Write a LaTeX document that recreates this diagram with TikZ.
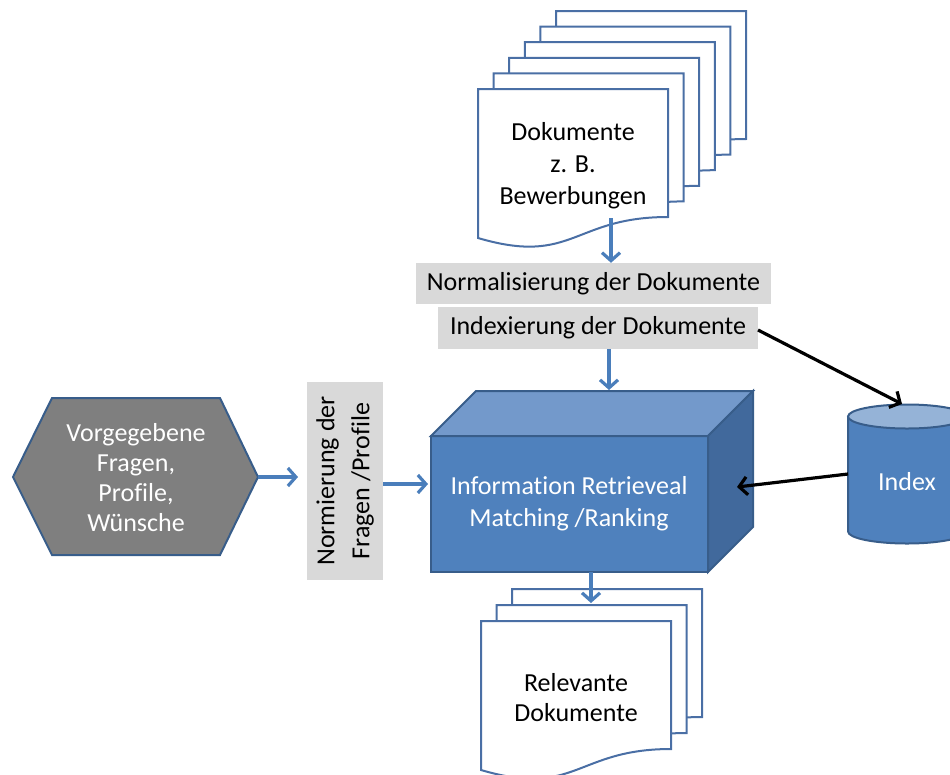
\documentclass[tikz,border=0pt]{standalone}
\usepackage{fontspec}
\setmainfont{Carlito}[Ligatures=NoCommon]
\usetikzlibrary{arrows.meta}

\definecolor{pageblue}{HTML}{4A6FA5}
\definecolor{arrowblue}{HTML}{4A7EBB}
\definecolor{darkblue}{HTML}{385D8A}
\definecolor{frontblue}{HTML}{4F81BD}
\definecolor{topblue}{HTML}{7399CB}
\definecolor{sideblue}{HTML}{41699C}
\definecolor{capblue}{HTML}{95B3D7}
\definecolor{lightgray}{HTML}{D9D9D9}
\definecolor{hexgray}{HTML}{7F7F7F}

\tikzset{
  bluearrow/.style={draw=arrowblue,line width=3.2pt,-{Straight Barb[length=8pt,width=18pt]}},
  blackarrow/.style={draw=black,line width=3.2pt,-{Straight Barb[length=8pt,width=18pt]}},
  graybox/.style={fill=lightgray,inner sep=0pt,align=center,font=\fontsize{26}{35}\selectfont},
  bigtext/.style={align=center,font=\fontsize{26}{32}\selectfont},
  docpage/.pic={
    \draw[pageblue,line width=2pt,fill=white] (0,0) -- (190,0) -- (190,128)
      .. controls (95,128) and (95,177) .. (0,149) -- cycle;
  }
}

\begin{document}
\begin{tikzpicture}[x=1pt,y=-1pt]
                        \useasboundingbox (0,0) rectangle (950,774);

                        % Dokumente
                        \foreach \k in {5,4,...,0}
                            \pic at ({478+15.6*\k},{89-15.6*\k}) {docpage};
                        \node[bigtext] (docs) at (573,166) {Dokumente\\z. B.\\Bewerbungen};
                        \coordinate (docsout) at (611,218);

                        \node[graybox,minimum width=355pt,minimum height=41pt] (norm) at (593.5,283.5) {Normalisierung der Dokumente};
                        \node[graybox,minimum width=320pt,minimum height=42pt] (idx) at (598,328) {Indexierung der Dokumente};
                        \coordinate (idxout) at (609,349);
                        \coordinate (idxright) at (758,330);

                        % Information Retrieval
                        \fill[frontblue,draw=darkblue,line width=2pt] (431,436) -- (708,436) -- (708,572) -- (431,572) -- cycle;
                        \fill[topblue,draw=darkblue,line width=2pt] (431,436) -- (476,391) -- (753,391) -- (708,436) -- cycle;
                        \fill[sideblue,draw=darkblue,line width=2pt] (708,436) -- (753,391) -- (753,527) -- (708,572) -- cycle;
                        \node[bigtext,text=white] (ir) at (569,504) {Information Retrieveal\\Matching /Ranking};
                        \coordinate (irtop) at (609,390);
                        \coordinate (irleft) at (428,484);
                        \coordinate (irright) at (737,487);
                        \coordinate (irbottom) at (591,572);

                        % Index
                        \fill[frontblue,draw=darkblue,line width=2pt] (848,416.5) -- (848,531.5)
                            arc[start angle=180,end angle=360,x radius=59pt,y radius=12pt] -- (966,416.5) -- cycle;
                        \fill[capblue,draw=darkblue,line width=2pt] (907,416.5) ellipse [x radius=59pt,y radius=12pt];
                        \node[bigtext,text=white] (index) at (907,482) {Index};
                        \coordinate (indextop) at (902,404);
                        \coordinate (indexleft) at (848,474);

                        % Fragen
                        \fill[hexgray,draw=darkblue,line width=2pt] (13,477) -- (52,398) -- (220,398) -- (258,477) -- (220,555) -- (52,555) -- cycle;
                        \node[align=center,text=white,font=\fontsize{26}{30}\selectfont] (quest) at (136,478) {Vorgegebene\\Fragen,\\Profile,\\Wünsche};
                        \coordinate (questout) at (258,477);

                        \node[graybox,rotate=90,minimum width=198pt,minimum height=76pt] (normfrag) at (345,481) {Normierung der\\Fragen /Profile};
                        \coordinate (normfragin) at (298,477);
                        \coordinate (normfragout) at (383,484);

                        % Relevante Dokumente
                        \foreach \k in {2,1,0}
                            \pic at ({481+15.5*\k},{621-16*\k}) {docpage};
                        \node[bigtext,font=\fontsize{26}{30}\selectfont] (rel) at (576,698) {Relevante\\Dokumente};
                        \coordinate (relin) at (591,603);

                        \draw[bluearrow] (docsout) -- (norm.north -| docsout);
                        \draw[bluearrow] (idxout) -- (irtop);
                        \draw[bluearrow] (questout) -- (normfragin);
                        \draw[bluearrow] (normfragout) -- (irleft);
                        \draw[bluearrow] (irbottom) -- (relin);
                        \draw[blackarrow] (idxright) -- (indextop);
                        \draw[blackarrow] (indexleft) -- (irright);
                    \end{tikzpicture}
\end{document}
